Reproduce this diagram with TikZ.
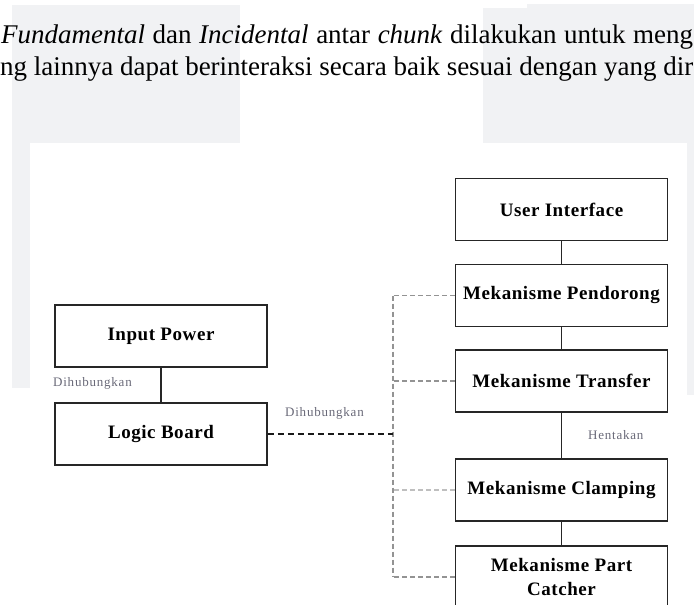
\documentclass[tikz,border=0pt]{standalone}
\usepackage{fontspec}
\setmainfont{Liberation Serif}
\newfontfamily\boxfont[LetterSpace=3]{Liberation Serif}
\newfontfamily\lblfont[LetterSpace=6]{Liberation Serif}
\definecolor{wm}{RGB}{241,242,244}
\definecolor{lblc}{RGB}{105,105,120}
\begin{document}
\begin{tikzpicture}[x=1pt,y=-1pt,
  blk/.style={draw=black!85, line width=1.6pt, minimum width=212pt, minimum height=62pt, inner sep=0pt, font=\boxfont\bfseries\fontsize{19}{24}\selectfont, align=center},
  lbl/.style={inner sep=0pt, anchor=west, text=lblc, font=\lblfont\fontsize{13}{15}\selectfont},
  link/.style={line width=1.6pt, draw=black!85},
  gdash/.style={line width=1.2pt, draw=gray!85, dash pattern=on 5pt off 3pt},
  ldash/.style={line width=1.2pt, draw=gray!50, dash pattern=on 5pt off 3pt},
  bdash/.style={line width=1.4pt, draw=black!90, dash pattern=on 6pt off 4pt},
  toptext/.style={inner sep=0pt, anchor=base west, font=\fontsize{27}{30}\selectfont},
]
\useasboundingbox (0,0) rectangle (694,605);
\clip (0,0) rectangle (694,605);
\fill[white] (0,0) rectangle (694,605);
% watermark patches
\fill[wm] (12,5) rectangle (240,143);
\fill[wm] (12,143) rectangle (30,388);
\fill[wm] (483,8) rectangle (694,143);
\fill[wm] (527,4) rectangle (694,8);
\fill[wm] (687,143) rectangle (694,395);
% top text
\node[toptext] (l1) at (1,43) {\makebox[692pt][s]{\textit{Fundamental} dan \textit{Incidental} antar \textit{chunk} dilakukan untuk meng}};
\node[toptext] (l2) at (0,75) {\makebox[693pt][s]{ng lainnya dapat berinteraksi secara baik sesuai dengan yang dir}};
% left boxes
\node[blk] (inp) at (161,336) {Input Power};
\node[blk] (logic) at (161,434) {Logic Board};
% right boxes
\node[blk] (ui) at (561.5,209.5) {User Interface};
\node[blk] (pend) at (561.5,295.5) {Mekanisme Pendorong};
\node[blk] (trans) at (561.5,381) {Mekanisme Transfer};
\node[blk] (clamp) at (561.5,490) {Mekanisme Clamping};
\node[blk] (catch) at (561.5,577) {Mekanisme Part\\Catcher};
% labels
\node[lbl] (lab1) at (53,383) {Dihubungkan};
\node[lbl] (lab2) at (285,413) {Dihubungkan};
\node[lbl] (lab3) at (588,435) {Hentakan};
% solid links
\draw[link] (inp) -- (logic);
\draw[link] (ui) -- (pend);
\draw[link] (pend) -- (trans);
\draw[link] (trans) -- (clamp);
\draw[link] (clamp) -- (catch);
% dashed bus
\coordinate (vx) at (393,0);
\draw[gdash] (pend.west -| vx) -- (catch.west -| vx);
\draw[gdash] (pend.west) -- (pend.west -| vx);
\draw[gdash] (trans.west) -- (trans.west -| vx);
\draw[ldash] (clamp.west) -- (clamp.west -| vx);
\draw[gdash] (catch.west) -- (catch.west -| vx);
\draw[bdash] (logic.east) -- (logic.east -| vx);
\end{tikzpicture}
\end{document}
